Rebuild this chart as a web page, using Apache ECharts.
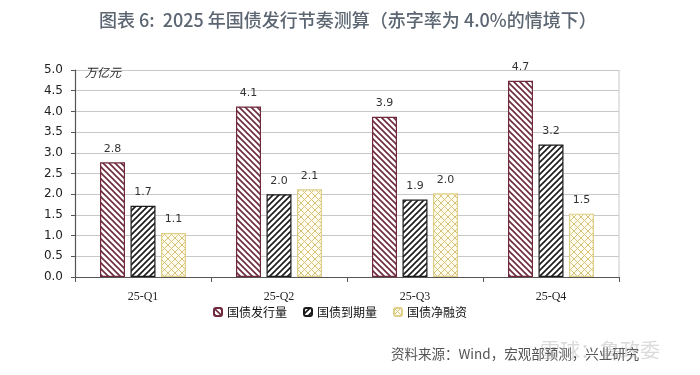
<!DOCTYPE html>
<html><head><meta charset="utf-8">
<script src="https://cdn.jsdelivr.net/npm/echarts@6/dist/echarts.min.js"></script>
<style>html,body{margin:0;padding:0;background:#fff}#c{width:700px;height:375px}</style>
</head><body><div id="c"></div>
<script>
const categories = ['25-Q1','25-Q2','25-Q3','25-Q4'];
const seriesNames = ['国债发行量','国债到期量','国债净融资'];
const issuance = [2.77, 4.12, 3.87, 4.74];
const maturity = [1.72, 2.00, 1.87, 3.20];
const netFinancing = [1.06, 2.12, 2.02, 1.53];
const yTicks = [0, 0.5, 1.0, 1.5, 2.0, 2.5, 3.0, 3.5, 4.0, 4.5, 5.0];

function stripe(color, dir, bg) {
  const s = 6, c = document.createElement('canvas');
  c.width = s; c.height = s;
  const g = c.getContext('2d');
  g.fillStyle = bg; g.fillRect(0,0,s,s);
  g.strokeStyle = color; g.lineWidth = 1.6;
  g.beginPath();
  if (dir > 0) {
    g.moveTo(0,s); g.lineTo(s,0);
    g.moveTo(-s/2,s/2); g.lineTo(s/2,-s/2);
    g.moveTo(s/2,s*1.5); g.lineTo(s*1.5,s/2);
  } else {
    g.moveTo(0,0); g.lineTo(s,s);
    g.moveTo(-s/2,s/2); g.lineTo(s/2,s*1.5);
    g.moveTo(s/2,-s/2); g.lineTo(s*1.5,s/2);
  }
  g.stroke();
  return c;
}
function cross(color, bg) {
  const s = 7, c = document.createElement('canvas');
  c.width = s; c.height = s;
  const g = c.getContext('2d');
  g.fillStyle = bg; g.fillRect(0,0,s,s);
  g.strokeStyle = color; g.lineWidth = 1;
  g.beginPath();
  g.moveTo(0,0); g.lineTo(s,s);
  g.moveTo(0,s); g.lineTo(s,0);
  g.stroke();
  return c;
}
const pat1 = {image: stripe('#6e2a3c', -1, '#ffffff'), repeat: 'repeat'};
const pat2 = {image: stripe('#1a1a1a', 1, '#ffffff'), repeat: 'repeat'};
const pat3 = {image: cross('#d8c27a', '#fffdf0'), repeat: 'repeat'};

const chart = echarts.init(document.getElementById('c'), null, {renderer: 'canvas'});
const labelCfg = {show: true, position: 'top', distance: 8, color: '#333', fontSize: 11,
  fontFamily: 'DejaVu Sans', formatter: p => p.value.toFixed(1)};
function mk(name, data, pat, border) {
  return {name, type: 'bar', data, barWidth: 25, barGap: '22%',
    itemStyle: {color: pat, borderColor: border, borderWidth: 1.2},
    label: labelCfg};
}
chart.setOption({
  animation: false,
  title: {text: '图表 6:  2025 年国债发行节奏测算（赤字率为 4.0%的情境下）', left: 94, top: 6,
    textStyle: {color: '#5c6672', fontSize: 18, fontWeight: 500, fontFamily: 'Noto Sans CJK SC'}},
  legend: {data: seriesNames, bottom: 52, left: 208, itemWidth: 8, itemHeight: 8, itemGap: 16,
    textStyle: {fontSize: 12, color: '#111', fontFamily: 'Noto Sans CJK SC'}},
  grid: {left: 75, right: 81, top: 70, bottom: 98},
  xAxis: {type: 'category', data: categories,
    axisLine: {lineStyle: {color: '#555', width: 1.2}},
    axisTick: {show: true, interval: 0, length: 5, inside: false, lineStyle: {color: '#555'}},
    axisLabel: {color: '#222', fontSize: 12, fontFamily: 'Liberation Serif', margin: 14}},
  yAxis: {type: 'value', min: 0, max: 5, interval: 0.5,
    name: '万亿元', nameLocation: 'end', nameGap: -2,
    nameTextStyle: {align: 'left', padding: [0,0,-6,10], color: '#222', fontSize: 12, fontFamily: 'Noto Sans CJK SC', fontStyle: 'italic'},
    axisLine: {show: true, lineStyle: {color: '#555', width: 1.2}},
    axisTick: {show: true, length: 4, lineStyle: {color: '#555'}},
    axisLabel: {color: '#222', fontSize: 12, fontFamily: 'DejaVu Sans', margin: 12,
      formatter: v => yTicks.includes(v) ? v.toFixed(1) : ''},
    splitLine: {lineStyle: {color: '#c8c8c8', width: 1}}},
  series: [
    mk(seriesNames[0], issuance, pat1, '#6e2a3c'),
    mk(seriesNames[1], maturity, pat2, '#1a1a1a'),
    mk(seriesNames[2], netFinancing, pat3, '#e0cf8a')
  ],
  graphic: [
    {type: 'line', shape: {x1: 619, y1: 70, x2: 619, y2: 277}, style: {stroke: '#c8c8c8', lineWidth: 1}, z: 0},
    {type: 'text', left: 391, top: 347, style: {text: '资料来源：Wind，宏观部预测，兴业研究', fill: '#555', fontSize: 13.5, fontFamily: 'Noto Sans CJK SC'}},
    {type: 'text', left: 540, top: 340, style: {text: '雪球：鲁政委', fill: 'rgba(150,150,150,0.35)', fontSize: 20, fontFamily: 'Noto Sans CJK SC'}}
  ]
});
</script></body></html>
